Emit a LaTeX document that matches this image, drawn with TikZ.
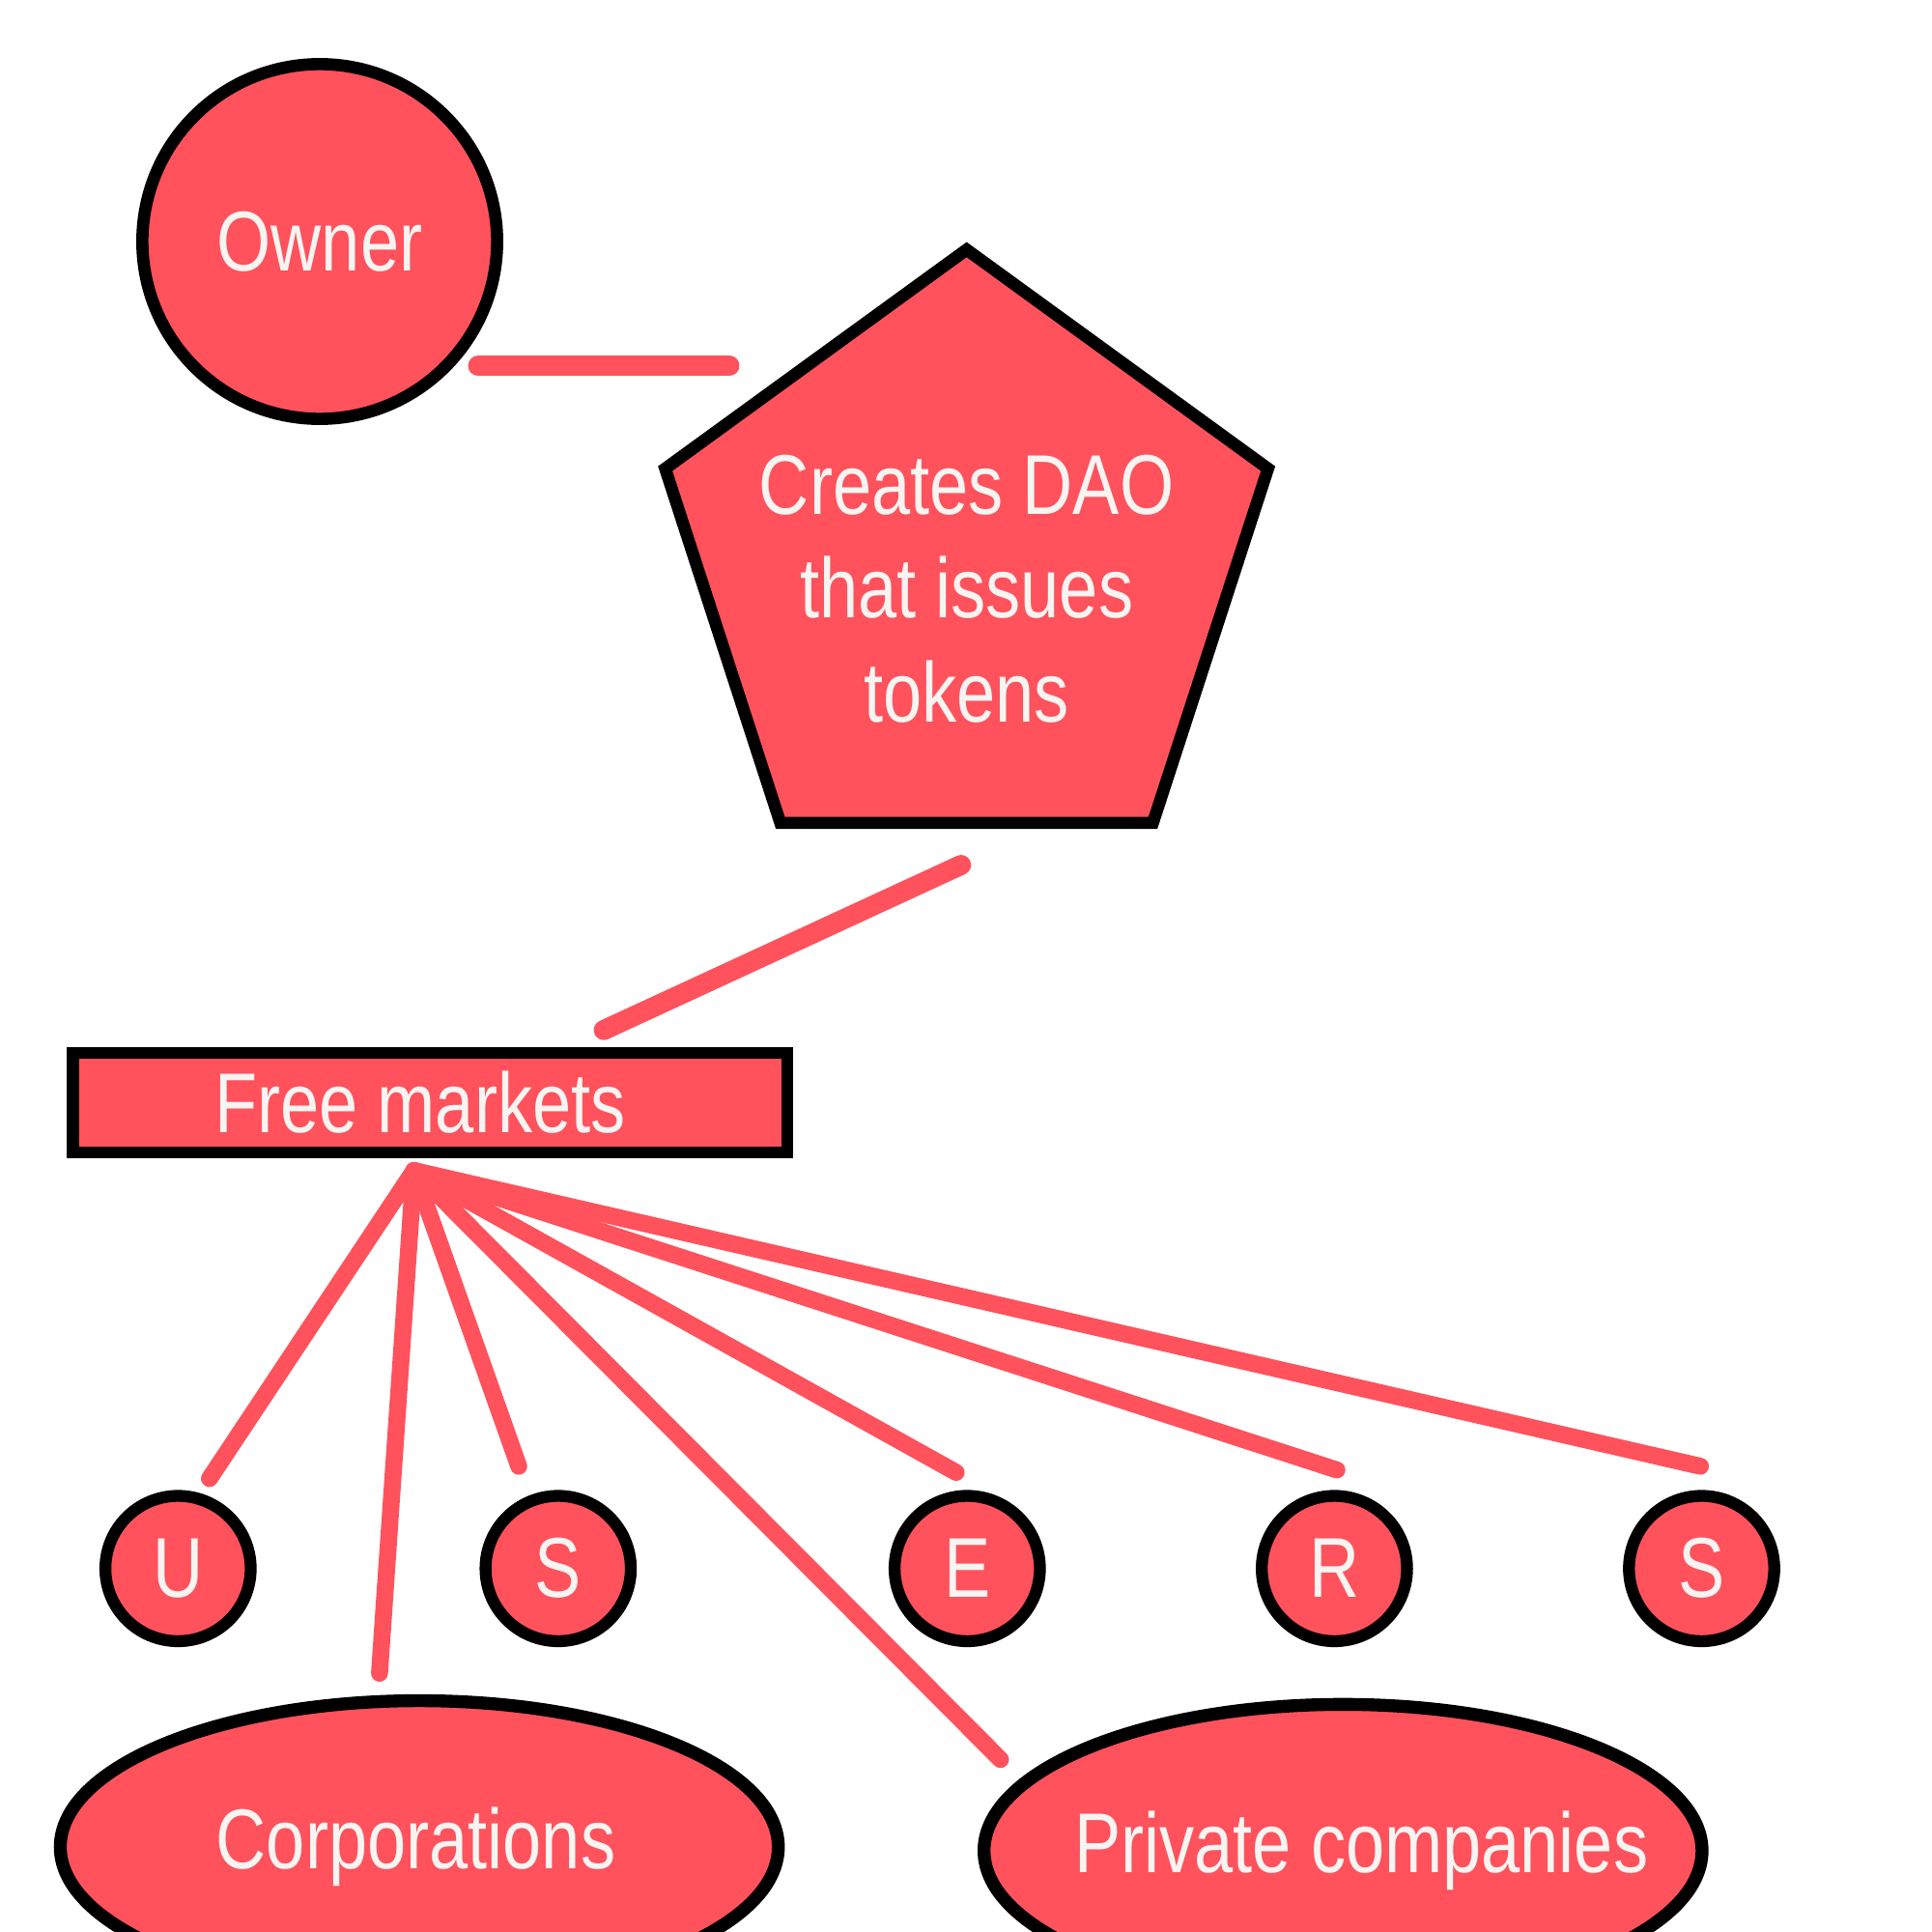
\documentclass[tikz,border=0pt]{standalone}
\usepackage{fontspec}
\setmainfont{Liberation Sans}[FakeStretch=0.822]
\usetikzlibrary{shapes.geometric}
\definecolor{coral}{HTML}{FF525C}
\definecolor{offwhite}{HTML}{F8F4F2}
\begin{document}
\begin{tikzpicture}[x=0.012755cm,y=-0.012755cm,
  shapebox/.style={draw=black, fill=coral, line width=3.6pt, text=offwhite,
    font=\fontsize{25}{30.7}\selectfont, inner sep=0pt, outer sep=0pt},
  smallcirc/.style={shapebox, circle, minimum size=42.8pt, line width=3.5pt},
  bigoval/.style={shapebox, ellipse, minimum width=211.5pt, minimum height=86.2pt, line width=3.8pt},
  labeltext/.style={text=offwhite, font=\fontsize{25}{30.7}\selectfont, inner sep=0pt, align=center},
  link/.style={draw=coral, line width=5.9pt, line cap=round, line join=round},
  fanlink/.style={draw=coral, line width=5.0pt, line cap=round, line join=round},
]
\clip (0,0) rectangle (1568,1568);
% shapes
\node[shapebox, circle, minimum size=104.5pt] (owner) at (259.5,196) {Owner};
\node[shapebox, regular polygon, regular polygon sides=5, minimum size=186.7pt] (dao) at (784.5,459.8) {};
\node[labeltext] (daolabel) at (784.5,478) {Creates DAO\\that issues\\tokens};
\node[shapebox, rectangle, minimum width=210.5pt, minimum height=29.3pt] (market) at (349,895) {\makebox[0pt]{\hspace*{-5.8pt}Free markets}};
\node[smallcirc] (u) at (144.5,1273) {U};
\node[smallcirc] (s1) at (453,1273) {S};
\node[smallcirc] (e) at (785,1273) {E};
\node[smallcirc] (r) at (1083,1273) {R};
\node[smallcirc] (s2) at (1381,1273) {S};
\node[bigoval] (corp) at (340.3,1499) {\makebox[0pt]{\hspace*{-2pt}Corporations}};
\node[bigoval] (priv) at (1090,1502) {\makebox[0pt]{\hspace*{10.8pt}Private companies}};
% connector end points
\coordinate (ownerend) at (388,297);
\coordinate (daoin) at (592,297);
\coordinate (daoout) at (780,702);
\coordinate (marketin) at (490,836);
\coordinate (apex) at (336,950);
\coordinate (uend) at (170,1200);
\coordinate (corpend) at (308,1358);
\coordinate (s1end) at (421,1190);
\coordinate (privend) at (812,1428);
\coordinate (eend) at (776,1195);
\coordinate (rend) at (1085,1193);
\coordinate (s2end) at (1380,1190);
% connectors
\draw[link] (ownerend) -- (daoin);
\draw[link] (daoout) -- (marketin);
\draw[fanlink] (uend) -- (apex);
\draw[fanlink] (corpend) -- (apex);
\draw[fanlink] (s1end) -- (apex);
\draw[fanlink] (privend) -- (apex);
\draw[fanlink] (eend) -- (apex);
\draw[fanlink] (rend) -- (apex);
\draw[fanlink] (s2end) -- (apex);
\end{tikzpicture}
\end{document}
